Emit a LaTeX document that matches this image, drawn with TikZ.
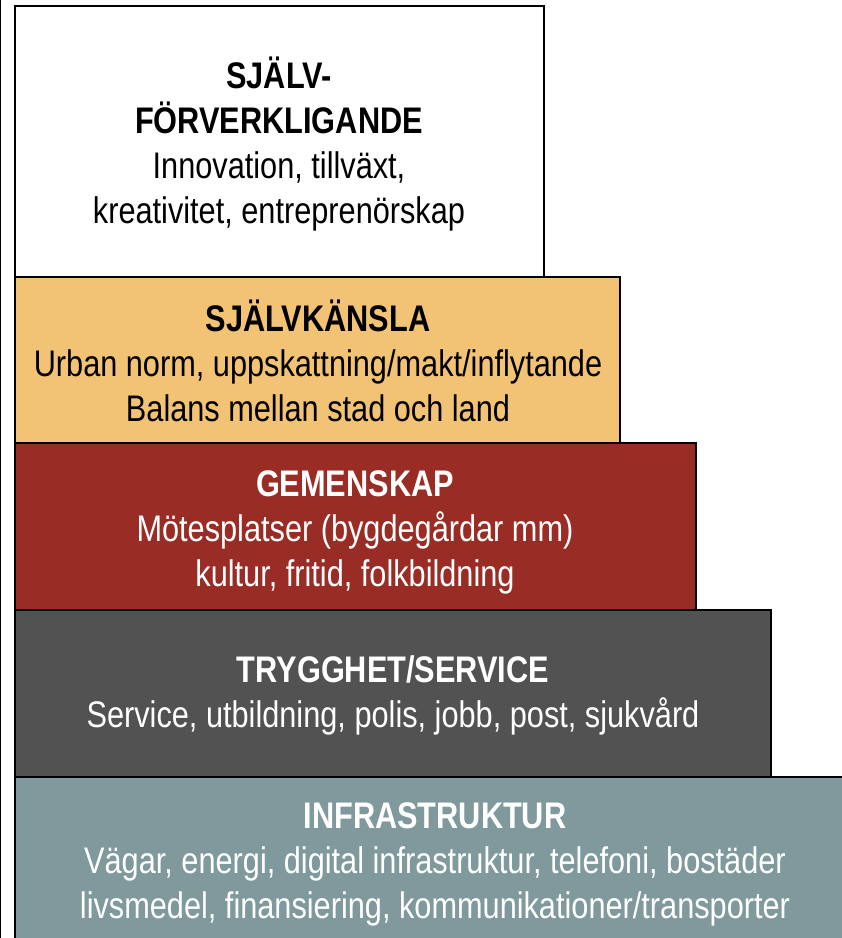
\documentclass[tikz,border=0pt]{standalone}
\usepackage{fontspec}
\setmainfont[FakeStretch=0.83]{Liberation Sans}
\definecolor{orangefill}{HTML}{F2C275}
\definecolor{redfill}{HTML}{992D26}
\definecolor{grayfill}{HTML}{525252}
\definecolor{bluefill}{HTML}{7F999D}
\begin{document}
\begin{tikzpicture}[x=1pt,y=-1pt,
  level/.style={draw=black, line width=2pt},
  lbl/.style={align=center, font=\fontsize{37}{45}\selectfont, inner sep=0pt}]
\useasboundingbox (0,0) rectangle (842,938);
\clip (0,0) rectangle (842,938);
\fill[white] (0,0) rectangle (842,938);
\draw[line width=1.2pt] (0.6,0) -- (0.6,938);
\path[level, fill=white] (15,6) rectangle (544,277);
\path[level, fill=orangefill] (15,277) rectangle (620,443);
\path[level, fill=redfill] (15,443) rectangle (696,610);
\path[level, fill=grayfill] (15,610) rectangle (771,777);
\path[level, fill=bluefill] (15,777) rectangle (860,960);
\node[lbl, text=black] (self) at (279,144) {\textbf{SJÄLV-}\\\textbf{FÖRVERKLIGANDE}\\Innovation, tillväxt,\\kreativitet, entreprenörskap};
\node[lbl, text=black] (esteem) at (318,361) {\textbf{SJÄLVKÄNSLA}\\Urban norm, uppskattning/makt/inflytande\\Balans mellan stad och land};
\node[lbl, text=white] (social) at (355,532) {\textbf{GEMENSKAP}\\Mötesplatser (bygdegårdar mm)\\kultur, fritid, folkbildning};
\node[lbl, text=white] (safety) at (393,695) {\textbf{TRYGGHET/SERVICE}\\Service, utbildning, polis, jobb, post, sjukvård};
\node[lbl, text=white] (infra) at (435,864) {\textbf{INFRASTRUKTUR}\\Vägar, energi, digital infrastruktur, telefoni, bostäder\\livsmedel, finansiering, kommunikationer/transporter};
\end{tikzpicture}
\end{document}
